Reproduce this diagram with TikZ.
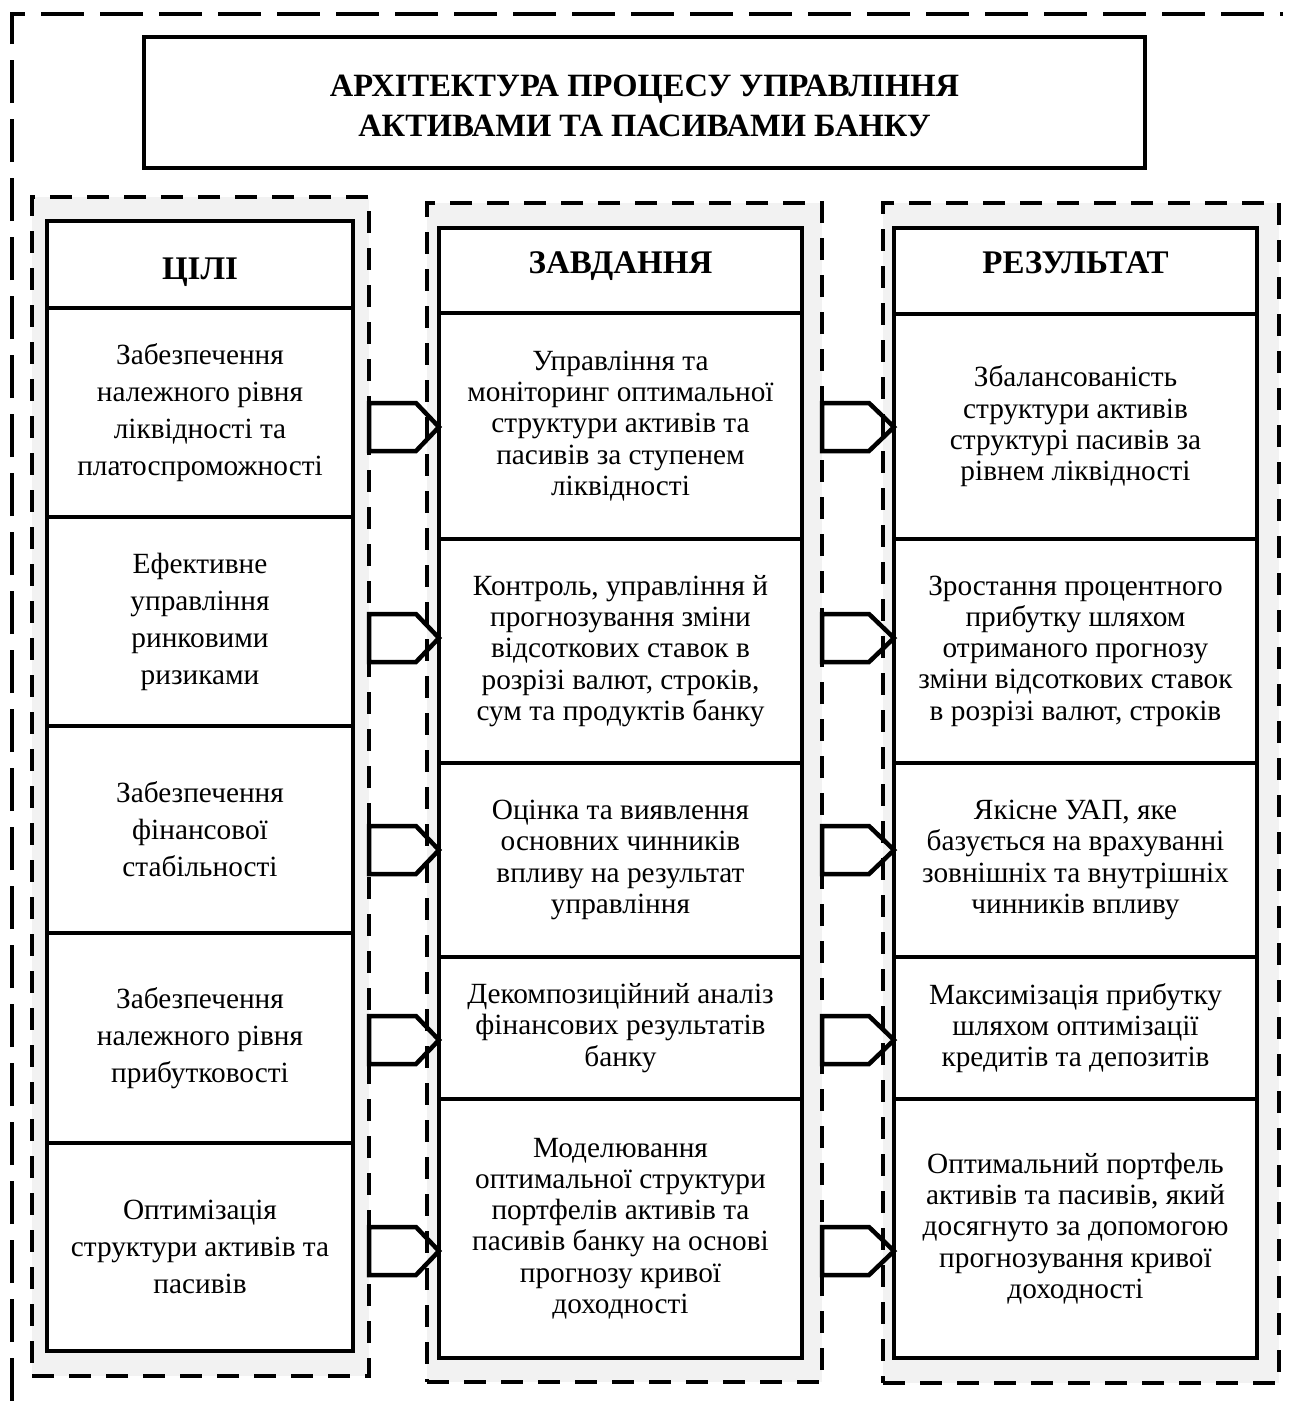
\documentclass[tikz,border=0pt]{standalone}
\usepackage{fontspec}
\setmainfont{Liberation Serif}
\newcommand{\colafont}{\fontsize{29.3}{37}\selectfont}
\newcommand{\colbfont}{\fontsize{29.3}{31.3}\selectfont}
\newcommand{\headfont}{\fontsize{33}{38}\selectfont\bfseries}
\newcommand{\titlefont}{\fontsize{32.5}{40}\selectfont\bfseries}
\tikzset{
  outerframe/.style={line width=4.5pt, dash pattern=on 43pt off 16pt},
  colframe/.style={draw, fill=black!5, line width=4.5pt, dash pattern=on 22pt off 15pt, inner sep=0pt, outer sep=0pt, anchor=north west},
  cell/.style={draw, fill=white, line width=4.5pt, inner sep=0pt, outer sep=0pt, align=center, anchor=north west},
  cella/.style={cell, minimum width=306pt, font=\colafont},
  cellb/.style={cell, minimum width=363pt, font=\colbfont},
  headcell/.style={font=\headfont},
  blockarrow/.style={line width=4.5pt, line join=miter}
}
\begin{document}
\begin{tikzpicture}[x=1pt, y=-1pt]
\useasboundingbox (0,0) rectangle (1297,1401);
% outer open frame
\draw[outerframe] (12,1401) -- (12,14) -- (1283,14);
% title
\node[cell, minimum width=1001pt, minimum height=131pt, font=\titlefont, text height=67pt, text depth=0pt] (title) at (144,37) {АРХІТЕКТУРА ПРОЦЕСУ УПРАВЛІННЯ\\АКТИВАМИ ТА ПАСИВАМИ БАНКУ};
% column frames
\node[colframe, minimum width=337pt, minimum height=1179pt] (f1) at (32,197) {};
\node[colframe, minimum width=395pt, minimum height=1179pt] (f2) at (427,203) {};
\node[colframe, minimum width=396pt, minimum height=1180pt] (f3) at (883,203) {};
% column 1
\node[cella, headcell, minimum height=87pt, text height=29pt, text depth=0pt] (g0) at (47,221) {ЦІЛІ};
\node[cella, minimum height=209pt] (g1) at (47,308) {Забезпечення\\належного рівня\\ліквідності та\\платоспроможності};
\node[cella, minimum height=209pt] (g2) at (47,517) {Ефективне\\управління\\ринковими\\ризиками};
\node[cella, minimum height=207pt] (g3) at (47,726) {Забезпечення\\фінансової\\стабільності};
\node[cella, minimum height=210pt] (g4) at (47,933) {Забезпечення\\належного рівня\\прибутковості};
\node[cella, minimum height=208pt] (g5) at (47,1143) {Оптимізація\\структури активів та\\пасивів};
% column 2
\node[cellb, headcell, minimum height=85pt, text height=20pt, text depth=15pt] (t0) at (439,228) {ЗАВДАННЯ};
\node[cellb, minimum height=226pt] (t1) at (439,313) {Управління та\\моніторинг оптимальної\\структури активів та\\пасивів за ступенем\\ліквідності};
\node[cellb, minimum height=224pt] (t2) at (439,539) {Контроль, управління й\\прогнозування зміни\\відсоткових ставок в\\розрізі валют, строків,\\сум та продуктів банку};
\node[cellb, minimum height=194pt] (t3) at (439,763) {Оцінка та виявлення\\основних чинників\\впливу на результат\\управління};
\node[cellb, minimum height=142pt] (t4) at (439,957) {Декомпозиційний аналіз\\фінансових результатів\\банку};
\node[cellb, minimum height=259pt] (t5) at (439,1099) {Моделювання\\оптимальної структури\\портфелів активів та\\пасивів банку на основі\\прогнозу кривої\\доходності};
% column 3
\node[cellb, headcell, minimum height=86pt, text height=20pt, text depth=15pt] (r0) at (894,228) {РЕЗУЛЬТАТ};
\node[cellb, minimum height=225pt] (r1) at (894,314) {Збалансованість\\структури активів\\структурі пасивів за\\рівнем ліквідності};
\node[cellb, minimum height=224pt] (r2) at (894,539) {Зростання процентного\\прибутку шляхом\\отриманого прогнозу\\зміни відсоткових ставок\\в розрізі валют, строків};
\node[cellb, minimum height=194pt] (r3) at (894,763) {Якісне УАП, яке\\базується на врахуванні\\зовнішніх та внутрішніх\\чинників впливу};
\node[cellb, minimum height=142pt] (r4) at (894,957) {Максимізація прибутку\\шляхом оптимізації\\кредитів та депозитів};
\node[cellb, minimum height=259pt] (r5) at (894,1099) {Оптимальний портфель\\активів та пасивів, який\\досягнуто за допомогою\\прогнозування кривої\\доходності};
% block arrows
\foreach \c/\a/\b in {427/g1/t1, 638/g2/t2, 850/g3/t3, 1040/g4/t4, 1251/g5/t5}{
  \draw[blockarrow] (f1.east |- 0,\c-24) -- ++(47,0) -- (\b.west |- 0,\c) -- ++(-23,24) -- ++(-47,0) -- cycle;
}
\foreach \c/\a/\b in {427/t1/r1, 638/t2/r2, 850/t3/r3, 1040/t4/r4, 1251/t5/r5}{
  \draw[blockarrow] (f2.east |- 0,\c-24) -- ++(47,0) -- (\b.west |- 0,\c) -- ++(-25,24) -- ++(-47,0) -- cycle;
}
\end{tikzpicture}
\end{document}
